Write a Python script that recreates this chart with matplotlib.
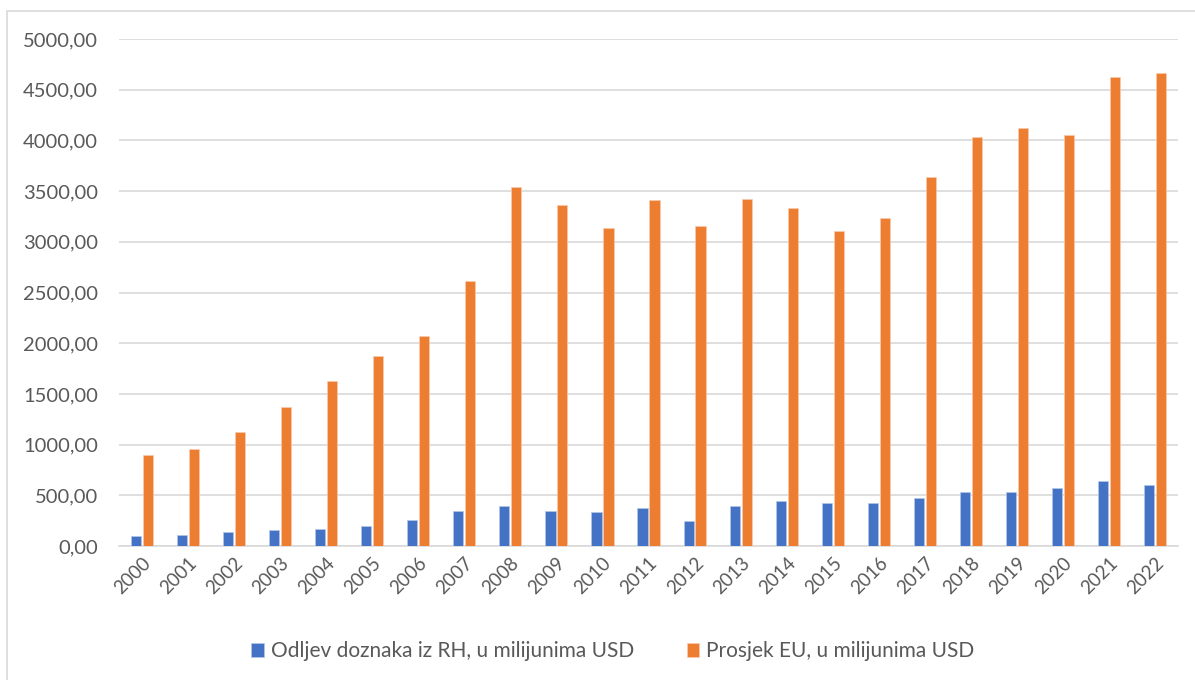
import matplotlib
matplotlib.use("Agg")
import matplotlib.pyplot as plt
from matplotlib.patches import Rectangle
from matplotlib.ticker import FuncFormatter
import numpy as np

plt.rcParams['font.family'] = ['Lato', 'DejaVu Sans']

years = [str(y) for y in range(2000, 2023)]
rh = [95, 108, 135, 158, 171, 197, 260, 345, 398, 345, 335, 373,
      248, 396, 449, 426, 426, 475, 535, 535, 574, 637, 601]
eu = [898, 960, 1125, 1375, 1625, 1872, 2076, 2612, 3536, 3362, 3135, 3411,
      3158, 3421, 3332, 3109, 3234, 3638, 4036, 4125, 4049, 4625, 4664]
labels = ['Odljev doznaka iz RH, u milijunima USD', 'Prosjek EU, u milijunima USD']

blue = '#4472c4'
orange = '#ed7d31'
txt = '#595959'
grid = '#d9d9d9'

fig = plt.figure(figsize=(11.95, 6.8), dpi=100)
ax = fig.add_axes([0.0996, 0.197, 0.8862, 0.7456])

x = np.arange(len(years))
w = 0.22
ax.bar(x - 0.13, rh, w, color=blue, edgecolor='#b4c7e7', linewidth=0.5, label=labels[0], zorder=3)
ax.bar(x + 0.13, eu, w, color=orange, edgecolor='#f8cbad', linewidth=0.5, label=labels[1], zorder=3)

ax.set_xlim(-0.5, len(years) - 0.5)
ax.set_ylim(0, 5000)
ax.set_yticks(np.arange(0, 5001, 500))
ax.yaxis.set_major_formatter(FuncFormatter(lambda v, p: f'{v:.2f}'.replace('.', ',')))
ax.set_xticks(x)
ax.set_xticklabels(years, rotation=45, ha='right', rotation_mode='anchor')
ax.grid(axis='y', color=grid, linewidth=1.2, zorder=0)
for s in ['top', 'right', 'left']:
    ax.spines[s].set_visible(False)
ax.spines['bottom'].set_color(grid)
ax.spines['bottom'].set_linewidth(1.2)
ax.tick_params(axis='both', length=0, labelcolor=txt)
ax.tick_params(axis='y', pad=15, labelsize=14.5)
ax.tick_params(axis='x', pad=6, labelsize=13.5)

leg = fig.legend(loc='center', bbox_to_anchor=(0.513, 0.042), ncol=2, frameon=False,
                 fontsize=15, labelcolor=txt, handlelength=0.6, handleheight=0.6,
                 handletextpad=0.35, columnspacing=2.5)

fig.patches.append(Rectangle((0.006, -0.01), 1.1, 0.9938, transform=fig.transFigure,
                             fill=False, edgecolor=grid, linewidth=1.2))

fig.savefig('out.png', dpi=100)
